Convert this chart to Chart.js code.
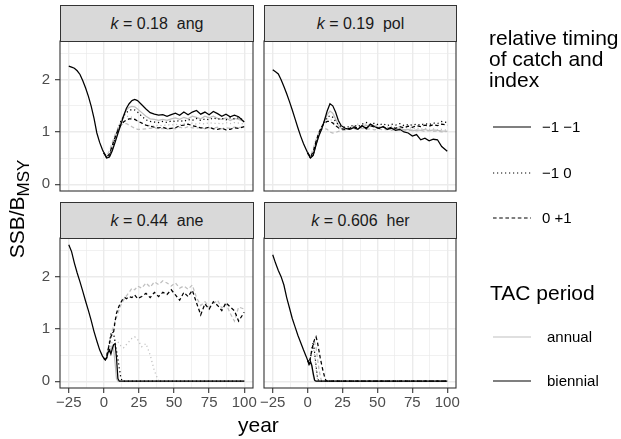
<!DOCTYPE html>
<html><head><meta charset="utf-8">
<script src="https://cdn.jsdelivr.net/npm/chart.js@4.4.1/dist/chart.umd.min.js"></script>
<style>
html,body{margin:0;padding:0;background:#fff;}
#wrap{position:relative;width:621px;height:439px;overflow:hidden;font-family:"Liberation Sans",Arial,sans-serif;background:#fff;}
canvas.pan{position:absolute;left:0;top:0;}
.strip{position:absolute;background:#D9D9D9;border:1px solid #333;box-sizing:border-box;display:flex;align-items:center;justify-content:center;font-size:16px;color:#1A1A1A;white-space:pre;}
.ytitle{position:absolute;width:240px;height:28px;line-height:28px;text-align:center;font-size:21px;color:#000;transform:rotate(-90deg);white-space:nowrap;}
.ytitle sub{font-size:17px;vertical-align:-5px;}
.xtitle{position:absolute;font-size:21px;color:#000;}
.ltitle{position:absolute;font-size:21px;line-height:21px;color:#000;white-space:nowrap;}
.litem{position:absolute;font-size:15px;color:#000;height:18px;line-height:18px;white-space:pre;}
svg.key{position:absolute;}
</style></head>
<body>
<div id="wrap">
<canvas class="pan" id="c1" width="621" height="439"></canvas>
<canvas class="pan" id="c2" width="621" height="439"></canvas>
<canvas class="pan" id="c3" width="621" height="439"></canvas>
<canvas class="pan" id="c4" width="621" height="439"></canvas>
<div class="strip" style="left:60px;top:5px;width:194px;height:37px;"><span><i>k</i> = 0.18  ang</span></div>
<div class="strip" style="left:264px;top:5px;width:193px;height:37px;"><span><i>k</i> = 0.19  pol</span></div>
<div class="strip" style="left:60px;top:202px;width:194px;height:37px;"><span><i>k</i> = 0.44  ane</span></div>
<div class="strip" style="left:264px;top:202px;width:193px;height:37px;"><span><i>k</i> = 0.606  her</span></div>
<div class="ytitle" style="left:-103px;top:195px;">SSB/B<sub>MSY</sub></div>
<div class="xtitle" style="left:238px;top:413px;">year</div>
<div class="ltitle" style="left:489px;top:27px;">relative timing<br>of catch and<br>index</div>
<svg class="key" style="left:493px;top:121px" width="38" height="12"><line x1="0" y1="6" x2="38" y2="6" stroke="#000" stroke-width="1.2"/></svg>
<div class="litem" style="left:542px;top:118px;">−1 −1</div>
<svg class="key" style="left:493px;top:167px" width="38" height="12"><line x1="0" y1="6" x2="38" y2="6" stroke="#000" stroke-width="1.2" stroke-dasharray="1.2 2.8"/></svg>
<div class="litem" style="left:542px;top:164px;">−1 0</div>
<svg class="key" style="left:493px;top:212px" width="38" height="12"><line x1="0" y1="6" x2="38" y2="6" stroke="#000" stroke-width="1.2" stroke-dasharray="3.6 2.6"/></svg>
<div class="litem" style="left:542px;top:209px;">0 +1</div>
<div class="ltitle" style="left:490px;top:282px;">TAC period</div>
<svg class="key" style="left:493px;top:331px" width="38" height="12"><line x1="0" y1="6" x2="38" y2="6" stroke="#BFBFBF" stroke-width="1.2"/></svg>
<div class="litem" style="left:547px;top:328px;">annual</div>
<svg class="key" style="left:493px;top:375px" width="38" height="12"><line x1="0" y1="6" x2="38" y2="6" stroke="#000" stroke-width="1.2"/></svg>
<div class="litem" style="left:547px;top:372px;">biennial</div>
</div>
<script>
// ---------- data ----------
const histYears = [-25,-23,-21,-19,-17,-15,-13,-11,-9,-7,-5,-3,-1,0];
const projYearsA = [0,2,4,6,8,10,12,14,16,18,20,22,24,27,30,33,36,39,42,45,48,51,54,57,60,63,66,69,72,75,78,81,84,87,90,93,96,100];
const projYearsB = [0,1,2,3,4,5,6,7,8,9,10,11,12,13,14,15,16,18,20,22,24,27,30,33,36,39,42,45,48,51,54,57,60,63,66,69,72,75,78,81,84,87,90,93,96,100];
const xTicks = [-25,-12.5,0,12.5,25,37.5,50,62.5,75,87.5,100];
const yTicks = [0,0.5,1,1.5,2,2.5];

// k = 0.18 ang
const angHist = [2.26,2.24,2.22,2.17,2.1,1.98,1.84,1.68,1.49,1.26,0.98,0.8,0.66,0.6];
const angBiSolid = [0.6,0.5,0.52,0.64,0.8,0.97,1.13,1.3,1.45,1.54,1.6,1.62,1.6,1.52,1.44,1.37,1.34,1.32,1.33,1.3,1.33,1.36,1.32,1.38,1.33,1.38,1.41,1.34,1.38,1.33,1.39,1.35,1.3,1.34,1.29,1.32,1.29,1.19];
const angAnSolid = [0.6,0.5,0.54,0.68,0.85,1.02,1.18,1.32,1.42,1.47,1.49,1.48,1.44,1.37,1.3,1.25,1.24,1.22,1.24,1.22,1.25,1.27,1.24,1.28,1.25,1.3,1.28,1.25,1.3,1.27,1.3,1.26,1.24,1.27,1.22,1.26,1.24,1.2];
const angBiDot = [0.6,0.51,0.55,0.7,0.88,1.05,1.2,1.3,1.37,1.41,1.43,1.42,1.38,1.3,1.23,1.2,1.19,1.18,1.2,1.18,1.21,1.2,1.22,1.2,1.24,1.22,1.26,1.22,1.25,1.23,1.27,1.24,1.26,1.23,1.27,1.25,1.27,1.22];
const angAnDot = [0.6,0.52,0.58,0.75,0.92,1.08,1.2,1.27,1.3,1.3,1.28,1.25,1.21,1.16,1.13,1.12,1.11,1.13,1.12,1.14,1.13,1.15,1.13,1.16,1.14,1.17,1.15,1.17,1.15,1.18,1.16,1.17,1.15,1.18,1.16,1.18,1.17,1.15];
const angBiDash = [0.6,0.52,0.58,0.74,0.9,1.03,1.13,1.19,1.23,1.25,1.25,1.24,1.21,1.17,1.13,1.11,1.09,1.08,1.09,1.06,1.07,1.08,1.12,1.13,1.15,1.12,1.1,1.08,1.07,1.09,1.06,1.05,1.07,1.04,1.05,1.08,1.07,1.1];
const angAnDash = [0.6,0.54,0.64,0.8,0.95,1.06,1.13,1.16,1.16,1.13,1.1,1.07,1.05,1.05,1.06,1.07,1.08,1.06,1.07,1.05,1.08,1.06,1.09,1.07,1.1,1.08,1.07,1.09,1.06,1.08,1.07,1.09,1.06,1.08,1.07,1.09,1.08,1.1];

// k = 0.19 pol
const polHist = [2.19,2.15,2.11,2.0,1.87,1.73,1.58,1.42,1.25,1.08,0.92,0.78,0.66,0.6];
const polBiSolid = [0.6,0.5,0.55,0.75,0.92,1.05,1.22,1.4,1.54,1.5,1.38,1.22,1.12,1.07,1.05,1.08,1.05,1.12,1.06,1.15,1.1,1.07,1.1,1.05,1.07,1.03,1.05,1.0,0.98,0.92,0.95,0.85,0.88,0.83,0.86,0.85,0.72,0.63];
const polAnSolid = [0.6,0.5,0.56,0.76,0.93,1.06,1.2,1.33,1.4,1.36,1.25,1.13,1.07,1.05,1.06,1.09,1.06,1.1,1.13,1.1,1.12,1.08,1.1,1.06,1.08,1.05,1.07,1.04,1.05,1.02,1.04,1.03,1.05,1.02,1.04,1.03,1.02,1.01];
const polBiDot = [0.6,0.5,0.57,0.78,0.95,1.08,1.2,1.28,1.31,1.28,1.2,1.14,1.1,1.09,1.1,1.13,1.1,1.15,1.18,1.14,1.17,1.13,1.16,1.12,1.15,1.13,1.16,1.12,1.14,1.13,1.15,1.13,1.16,1.14,1.17,1.16,1.2,1.18];
const polAnDot = [0.6,0.51,0.6,0.8,0.97,1.1,1.2,1.25,1.25,1.2,1.12,1.07,1.04,1.05,1.08,1.12,1.15,1.12,1.16,1.12,1.14,1.1,1.12,1.09,1.11,1.08,1.1,1.07,1.09,1.06,1.08,1.05,1.07,1.05,1.06,1.04,1.05,1.03];
const polBiDash = [0.6,0.52,0.62,0.82,0.98,1.1,1.17,1.2,1.2,1.17,1.12,1.08,1.06,1.05,1.07,1.1,1.07,1.11,1.08,1.12,1.09,1.07,1.1,1.06,1.09,1.07,1.1,1.08,1.11,1.09,1.12,1.1,1.13,1.11,1.14,1.12,1.15,1.13];
const polAnDash = [0.6,0.54,0.68,0.86,0.98,1.05,1.07,1.05,1.0,0.98,0.99,1.01,1.02,1.04,1.05,1.06,1.05,1.07,1.05,1.06,1.04,1.06,1.04,1.05,1.03,1.05,1.03,1.04,1.02,1.04,1.02,1.03,1.01,1.03,1.01,1.02,1.0,1.01];

// k = 0.44 ane
const aneHist = [2.61,2.48,2.26,2.07,1.9,1.72,1.53,1.35,1.16,0.95,0.77,0.6,0.48,0.44];
const aneBiSolid = [0.44,0.41,0.44,0.55,0.6,0.52,0.62,0.7,0.72,0.45,0.05,0,0,0,0,0,0, 0,0,0,0, 0,0,0,0,0,0,0,0,0,0,0,0,0,0,0,0,0,0,0,0,0,0,0,0, 0];
const aneAnSolid = [0.44,0.41,0.46,0.58,0.55,0.62,0.68,0.6,0.35,0.05,0,0,0,0,0,0,0, 0,0,0,0, 0,0,0,0,0,0,0,0,0,0,0,0,0,0,0,0,0,0,0,0,0,0,0,0, 0];
const aneBiDot = [0.44,0.41,0.45,0.6,0.75,0.9,0.95,0.9,0.75,0.58,0.42,0.25,0.08,0,0,0,0, 0,0,0,0, 0,0,0,0,0,0,0,0,0,0,0,0,0,0,0,0,0,0,0,0,0,0,0,0, 0];
const aneAnDot = [0.44,0.41,0.45,0.55,0.62,0.7,0.75,0.78,0.78,0.76,0.75,0.72,0.68,0.65,0.64,0.66,0.7, 0.76,0.82,0.85,0.8, 0.66,0.72,0.5,0.2,0,0,0,0,0,0,0,0,0,0,0,0,0,0,0,0,0,0,0,0, 0];
const aneBiDash = [0.44,0.41,0.47,0.6,0.72,0.85,0.9,0.95,1.15,1.3,1.38,1.45,1.5,1.55,1.58,1.6,1.58, 1.62,1.6,1.65,1.58, 1.62,1.68,1.6,1.7,1.62,1.7,1.66,1.75,1.65,1.55,1.7,1.62,1.74,1.5,1.27,1.48,1.38,1.52,1.45,1.35,1.5,1.42,1.35,1.15, 1.32];
const aneAnDash = [0.44,0.42,0.5,0.62,0.75,0.88,0.98,1.05,1.15,1.22,1.3,1.38,1.45,1.5,1.55,1.6,1.63, 1.7,1.78,1.75,1.82, 1.78,1.88,1.8,1.9,1.85,1.92,1.88,1.82,1.88,1.78,1.82,1.76,1.84,1.6,1.45,1.52,1.42,1.48,1.55,1.4,1.48,1.3,1.15,1.42, 1.38];

// k = 0.606 her
const herHist = [2.42,2.26,2.12,2.0,1.84,1.6,1.4,1.2,1.04,0.88,0.74,0.6,0.47,0.4];
const herBiSolid = [0.4,0.32,0.38,0.3,0.15,0.02,0,0,0,0,0,0,0,0,0,0,0, 0,0,0,0, 0,0,0,0,0,0,0,0,0,0,0,0,0,0,0,0,0,0,0,0,0,0,0,0, 0];
const herAnSolid = [0.4,0.32,0.35,0.28,0.1,0,0,0,0,0,0,0,0,0,0,0,0, 0,0,0,0, 0,0,0,0,0,0,0,0,0,0,0,0,0,0,0,0,0,0,0,0,0,0,0,0, 0];
const herBiDot = [0.4,0.33,0.45,0.6,0.75,0.55,0.3,0.08,0,0,0,0,0,0,0,0,0, 0,0,0,0, 0,0,0,0,0,0,0,0,0,0,0,0,0,0,0,0,0,0,0,0,0,0,0,0, 0];
const herAnDot = [0.4,0.33,0.42,0.55,0.65,0.5,0.25,0.05,0,0,0,0,0,0,0,0,0, 0,0,0,0, 0,0,0,0,0,0,0,0,0,0,0,0,0,0,0,0,0,0,0,0,0,0,0,0, 0];
const herBiDash = [0.4,0.34,0.45,0.6,0.72,0.8,0.85,0.75,0.6,0.45,0.32,0.2,0.1,0.02,0,0,0, 0,0,0,0, 0,0,0,0,0,0,0,0,0,0,0,0,0,0,0,0,0,0,0,0,0,0,0,0, 0];
const herAnDash = [0.4,0.34,0.45,0.58,0.7,0.75,0.65,0.45,0.25,0.1,0,0,0,0,0,0,0, 0,0,0,0, 0,0,0,0,0,0,0,0,0,0,0,0,0,0,0,0,0,0,0,0,0,0,0,0, 0];

// ---------- styles ----------
const BLACK = '#000000', GREY = '#BFBFBF';
const DASH = {solid: [], dot: [1.2, 2.8], dash: [3.6, 2.6]};
const LW = 1.25;

const panels = [
  {id:'c1', rect:[60,41,253,191], hist:angHist, years:projYearsA, showX:false, showY:true,
   s:{biSolid:angBiSolid, anSolid:angAnSolid, biDot:angBiDot, anDot:angAnDot, biDash:angBiDash, anDash:angAnDash}},
  {id:'c2', rect:[264,41,456,191], hist:polHist, years:projYearsA, showX:false, showY:false,
   s:{biSolid:polBiSolid, anSolid:polAnSolid, biDot:polBiDot, anDot:polAnDot, biDash:polBiDash, anDash:polAnDash}},
  {id:'c3', rect:[60,238,253,388], hist:aneHist, years:projYearsB, showX:true, showY:true,
   s:{biSolid:aneBiSolid, anSolid:aneAnSolid, biDot:aneBiDot, anDot:aneAnDot, biDash:aneBiDash, anDash:aneAnDash}},
  {id:'c4', rect:[264,238,456,388], hist:herHist, years:projYearsB, showX:true, showY:false,
   s:{biSolid:herBiSolid, anSolid:herAnSolid, biDot:herBiDot, anDot:herAnDot, biDash:herBiDash, anDash:herAnDash}}
];

const borderPlugin = {
  id: 'panelBorder',
  afterDraw(chart) {
    const a = chart.chartArea, ctx = chart.ctx;
    ctx.save();
    ctx.strokeStyle = '#333333';
    ctx.lineWidth = 1.1;
    ctx.strokeRect(a.left, a.top, a.right - a.left, a.bottom - a.top);
    ctx.restore();
  }
};

function pts(xs, ys) {
  if (xs.length !== ys.length) throw new Error('length mismatch ' + xs.length + ' vs ' + ys.length);
  return xs.map((x, i) => ({x: x, y: ys[i]}));
}
function line(data, color, dash) {
  return {data: data, borderColor: color, borderWidth: LW, borderDash: dash, pointRadius: 0, tension: 0, fill: false, borderCapStyle: 'butt'};
}
const fmt = v => (v < 0 ? '\u2212' + Math.abs(v) : String(v));

panels.forEach(p => {
  const [L, T, R, B] = p.rect;
  const yW = p.showY ? 30 : 0, xH = p.showX ? 26 : 0;
  const isMajX = v => v % 25 === 0;
  const isMajY = v => v % 1 === 0;
  const datasets = [
    line(pts(histYears, p.hist), BLACK, DASH.solid),
    line(pts(p.years, p.s.biDash), BLACK, DASH.dash),
    line(pts(p.years, p.s.biDot), BLACK, DASH.dot),
    line(pts(p.years, p.s.biSolid), BLACK, DASH.solid),
    line(pts(p.years, p.s.anDash), GREY, DASH.dash),
    line(pts(p.years, p.s.anDot), GREY, DASH.dot),
    line(pts(p.years, p.s.anSolid), GREY, DASH.solid)
  ];
  new Chart(document.getElementById(p.id), {
    type: 'line',
    data: {datasets: datasets},
    plugins: [borderPlugin],
    options: {
      responsive: false, animation: false, devicePixelRatio: 1,
      layout: {padding: {left: L - yW, top: T, right: 621 - R, bottom: 439 - B - xH}},
      plugins: {legend: {display: false}, tooltip: {enabled: false}},
      scales: {
        x: {
          type: 'linear', min: -31.25, max: 106.25,
          afterBuildTicks: s => { s.ticks = xTicks.map(v => ({value: v})); },
          afterFit: s => { s.height = xH; },
          border: {display: false},
          grid: {
            color: '#EBEBEB',
            lineWidth: c => (c.tick && isMajX(c.tick.value) ? 1.4 : 0.7),
            drawTicks: p.showX, tickLength: 5,
            tickColor: c => (c.tick && isMajX(c.tick.value) ? '#333333' : 'rgba(0,0,0,0)'),
            tickWidth: 1.1
          },
          ticks: {
            display: p.showX, autoSkip: false, maxRotation: 0, minRotation: 0, padding: 1,
            color: '#4D4D4D', font: {family: '"Liberation Sans", Arial, sans-serif', size: 15},
            callback: v => (isMajX(v) ? fmt(v) : '')
          }
        },
        y: {
          type: 'linear', min: -0.13, max: 2.74,
          afterBuildTicks: s => { s.ticks = yTicks.map(v => ({value: v})); },
          afterFit: s => { s.width = yW; },
          border: {display: false},
          grid: {
            color: '#EBEBEB',
            lineWidth: c => (c.tick && isMajY(c.tick.value) ? 1.4 : 0.7),
            drawTicks: p.showY, tickLength: 5,
            tickColor: c => (c.tick && isMajY(c.tick.value) ? '#333333' : 'rgba(0,0,0,0)'),
            tickWidth: 1.1
          },
          ticks: {
            display: p.showY, autoSkip: false, padding: 5,
            color: '#4D4D4D', font: {family: '"Liberation Sans", Arial, sans-serif', size: 15},
            callback: v => (isMajY(v) ? fmt(v) : '')
          }
        }
      }
    }
  });
});
</script>
</body></html>
